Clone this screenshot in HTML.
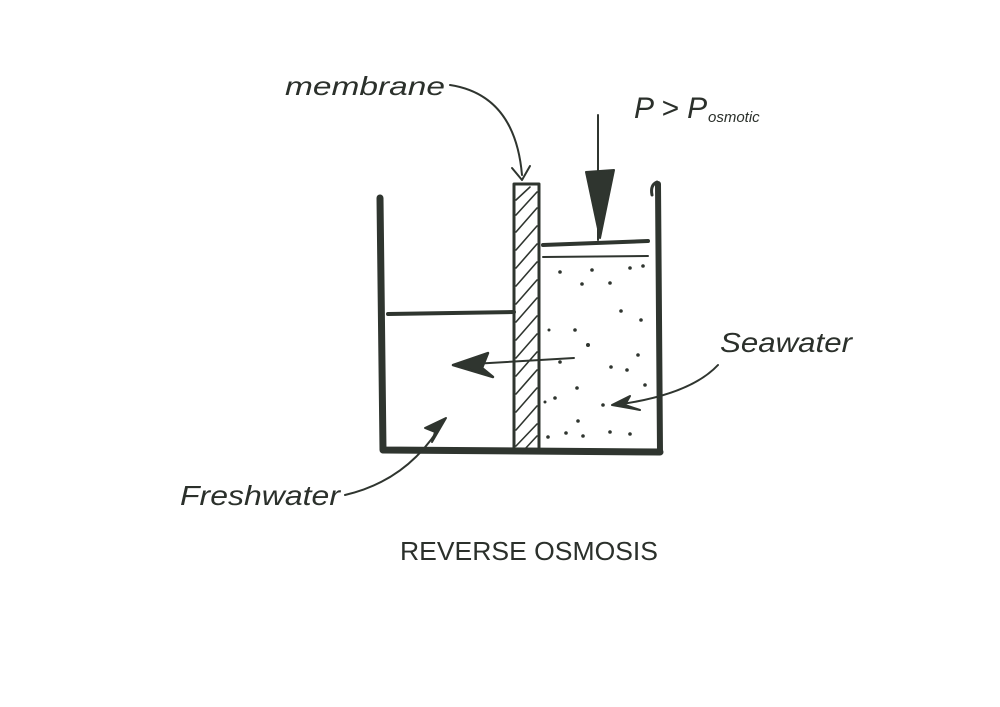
<!DOCTYPE html>
<html><head><style>
html,body{margin:0;padding:0;background:#fff;}
svg{display:block;}
text{font-family:"Liberation Sans",sans-serif;fill:#2b302b;}
</style></head><body>
<svg width="1000" height="707" viewBox="0 0 1000 707" xmlns="http://www.w3.org/2000/svg">
<g stroke="#2f352f" fill="none" stroke-linecap="round" stroke-linejoin="round">
<!-- container -->
<path d="M380 198 L383 450 L660 452" stroke-width="7"/>
<path d="M658 184 L660 452" stroke-width="6"/>
<path d="M652 195 Q650 185 657 182" stroke-width="3"/>
<!-- membrane -->
<rect x="514" y="184" width="25" height="268" stroke-width="3"/>
<g stroke-width="1.6">
<path d="M516 200 L530 187"/><path d="M516 215 L537 192"/><path d="M516 232 L537 208"/><path d="M516 250 L537 226"/>
<path d="M516 268 L537 244"/><path d="M516 286 L537 262"/><path d="M516 304 L537 280"/><path d="M516 322 L537 298"/>
<path d="M516 340 L537 316"/><path d="M516 358 L537 334"/><path d="M516 376 L537 352"/><path d="M516 394 L537 370"/>
<path d="M516 412 L537 388"/><path d="M516 430 L537 406"/><path d="M516 446 L537 424"/><path d="M524 450 L537 436"/>
</g>
<!-- freshwater level -->
<path d="M388 314 L514 312" stroke-width="4"/>
<!-- piston -->
<path d="M543 245 L648 241" stroke-width="4"/>
<path d="M543 257 L648 256" stroke-width="2"/>
<!-- pressure arrow -->
<path d="M598 115 L598 240" stroke-width="2"/>
<path d="M586 172 L614 170 L600 238 Z" fill="#2f352f" stroke-width="2"/>
<!-- flow arrow -->
<path d="M574 358 L455 365" stroke-width="2"/>
<path d="M453 365 L488 353 L482 368 L493 377 Z" stroke-width="2.5" fill="#2f352f"/>
<!-- membrane pointer -->
<path d="M450 85 Q515 95 522 175" stroke-width="2"/>
<path d="M512 168 L522 180 L530 166" stroke-width="2"/>
<!-- seawater pointer -->
<path d="M718 365 Q690 395 615 405" stroke-width="2"/>
<path d="M612 405 L630 396 L625 405 L640 410 Z" fill="#2f352f" stroke-width="2"/>
<!-- freshwater pointer -->
<path d="M345 495 Q410 480 444 420" stroke-width="2"/>
<path d="M446 418 L425 428 L435 432 L432 442 Z" fill="#2f352f" stroke-width="2"/>
</g>
<!-- dots -->
<g fill="#2f352f">
<circle cx="560" cy="272" r="1.8"/><circle cx="592" cy="270" r="1.8"/><circle cx="630" cy="268" r="1.8"/><circle cx="643" cy="266" r="1.8"/>
<circle cx="582" cy="284" r="1.8"/><circle cx="610" cy="283" r="1.8"/><circle cx="621" cy="311" r="1.8"/><circle cx="641" cy="320" r="1.8"/>
<circle cx="575" cy="330" r="1.8"/><circle cx="588" cy="345" r="2"/><circle cx="560" cy="362" r="1.8"/><circle cx="611" cy="367" r="1.8"/>
<circle cx="627" cy="370" r="1.8"/><circle cx="638" cy="355" r="1.8"/><circle cx="577" cy="388" r="1.8"/><circle cx="555" cy="398" r="1.8"/>
<circle cx="645" cy="385" r="1.8"/><circle cx="603" cy="405" r="1.8"/><circle cx="578" cy="421" r="1.8"/><circle cx="548" cy="437" r="1.8"/>
<circle cx="566" cy="433" r="1.8"/><circle cx="583" cy="436" r="1.8"/><circle cx="610" cy="432" r="1.8"/><circle cx="630" cy="434" r="1.8"/>
<circle cx="545" cy="402" r="1.5"/><circle cx="549" cy="330" r="1.5"/>
</g>
<!-- labels -->
<text x="285" y="95" font-size="26" font-style="italic" textLength="160" lengthAdjust="spacingAndGlyphs">membrane</text>
<text x="634" y="118" font-size="30" font-style="italic">P &gt; P</text>
<text x="708" y="122" font-size="15" font-style="italic">osmotic</text>
<text x="720" y="352" font-size="28" font-style="italic" textLength="132" lengthAdjust="spacingAndGlyphs">Seawater</text>
<text x="180" y="505" font-size="28" font-style="italic" textLength="160" lengthAdjust="spacingAndGlyphs">Freshwater</text>
<text x="400" y="560" font-size="26" textLength="258" lengthAdjust="spacingAndGlyphs">REVERSE OSMOSIS</text>
</svg>
</body></html>
